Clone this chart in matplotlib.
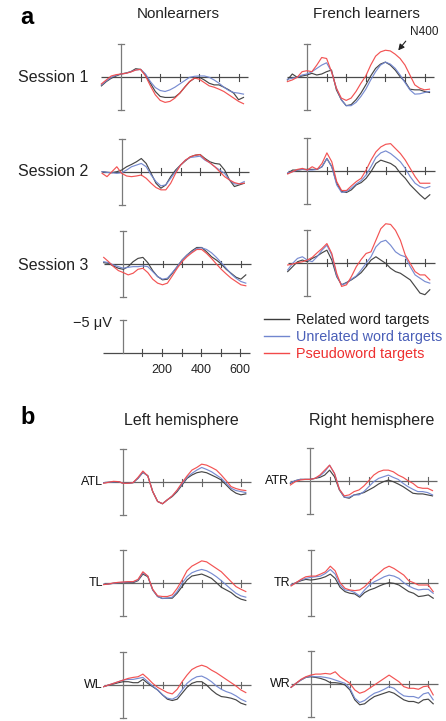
import matplotlib
matplotlib.use("Agg")
import matplotlib.pyplot as plt
from matplotlib.lines import Line2D

plt.rcParams['font.family'] = ['Liberation Sans', 'DejaVu Sans']

W, H = 446, 721

# ---------------- data (μV, negative plotted upward) ----------------
times = [-100, -75, -50, -25, 0, 25, 50, 75, 100, 125, 150, 175, 200, 225, 250,
         275, 300, 325, 350, 375, 400, 425, 450, 475, 500, 525, 550, 575, 600, 625]

series_names = ["Related word targets", "Unrelated word targets", "Pseudoword targets"]
series_colors = ["#3c3c3c", "#7186cf", "#f24a4a"]

# Panel a — Nonlearners
nl_s1_related = [1.3, 0.65, 0.15, -0.2, -0.5, -0.65, -0.85, -1.3, -1.2, -0.35, 0.9, 2.15, 2.9, 3.05, 3.05, 3.0, 2.4, 1.5, 0.65, 0.15, 0.0, 0.4, 0.9, 1.15, 1.15, 1.5, 1.9, 2.4, 3.4, 3.05]
nl_s1_unrelated = [1.15, 0.55, 0.0, -0.3, -0.5, -0.6, -0.85, -1.1, -1.2, -0.5, 0.65, 1.55, 2.0, 2.15, 1.9, 1.5, 1.0, 0.5, 0.0, -0.15, -0.2, -0.2, 0.0, 0.4, 0.9, 1.5, 2.0, 2.3, 2.4, 2.55]
nl_s1_pseudo = [1.0, 0.4, -0.2, -0.4, -0.5, -0.6, -0.8, -1.1, -1.2, -0.2, 1.3, 2.65, 3.5, 3.8, 3.65, 3.15, 2.4, 1.5, 0.65, 0.1, 0.3, 0.8, 1.3, 1.5, 1.8, 2.15, 2.65, 3.15, 3.65, 4.0]

nl_s2_related = [0.0, 0.1, 0.15, 0.0, -0.25, -0.75, -1.1, -1.5, -2.0, -1.25, 0.25, 1.75, 2.5, 2.0, 0.75, -0.25, -1.0, -1.65, -2.25, -2.5, -2.6, -2.0, -1.5, -1.25, -1.15, -0.25, 1.25, 2.25, 2.0, 1.75]
nl_s2_unrelated = [0.0, 0.1, 0.15, 0.25, 0.15, -0.25, -0.75, -1.0, -1.25, -0.75, 0.5, 1.5, 2.15, 2.0, 1.0, 0.0, -1.0, -1.75, -2.15, -2.25, -2.35, -1.75, -1.35, -0.75, -0.25, 0.25, 1.25, 1.85, 1.85, 1.5]
nl_s2_pseudo = [0.25, 0.75, 0.0, -0.75, 0.25, 0.65, 0.75, 0.65, 0.5, 1.0, 1.75, 2.4, 2.75, 2.75, 1.75, 0.25, -1.0, -1.75, -2.25, -2.5, -2.6, -1.85, -1.35, -0.75, 0.0, 0.75, 1.25, 1.65, 1.85, 1.75]

nl_s3_related = [-0.2, -0.1, 0.3, 0.65, 0.8, 0.4, -0.35, -0.85, -1.0, -0.2, 1.0, 1.9, 2.4, 2.3, 1.4, 0.4, -0.6, -1.35, -2.0, -2.5, -2.5, -1.85, -1.1, -0.6, 0.0, 0.8, 1.4, 2.0, 2.3, 1.65]
nl_s3_unrelated = [-0.35, -0.2, 0.15, 0.4, 0.65, 0.5, 0.4, 0.4, 0.3, 0.4, 1.15, 1.9, 2.3, 2.15, 1.3, 0.4, -0.6, -1.35, -1.85, -2.35, -2.45, -2.2, -1.7, -1.0, -0.2, 0.65, 1.5, 2.15, 2.65, 2.9]
nl_s3_pseudo = [-1.0, -0.35, 0.4, 1.0, 1.3, 1.65, 1.4, 0.8, 0.65, 1.3, 2.3, 2.9, 3.15, 2.9, 1.8, 0.65, -0.35, -1.1, -1.7, -2.2, -2.2, -1.6, -0.85, 0.0, 0.8, 1.5, 2.15, 2.65, 3.15, 3.3]

# Panel a — French learners
fl_s1_related = [0.4, -0.5, 0.0, -0.2, -0.35, -0.6, -0.35, -0.5, -0.85, -1.1, 1.9, 3.4, 4.3, 4.15, 3.4, 2.4, 1.15, -0.2, -1.35, -2.0, -2.3, -1.85, -1.1, -0.1, 0.65, 1.8, 1.9, 1.9, 2.15, 2.3]
fl_s1_unrelated = [0.3, 0.15, 0.0, -0.35, -0.5, -0.85, -1.35, -1.85, -2.2, -0.85, 1.65, 3.4, 4.3, 4.3, 3.8, 2.9, 1.8, 0.4, -0.85, -1.85, -2.3, -2.0, -1.35, -0.35, 0.8, 1.9, 2.55, 2.5, 2.3, 2.15]
fl_s1_pseudo = [0.65, 0.4, 0.0, -0.85, -1.0, -0.85, -1.85, -3.0, -2.85, -0.85, 1.65, 3.15, 3.5, 3.15, 2.15, 0.9, -0.2, -1.85, -3.2, -3.85, -4.1, -4.0, -3.5, -2.85, -1.85, -0.35, 1.15, 1.65, 1.9, 1.8]

fl_s2_related = [0.4, -0.1, -0.1, -0.2, -0.2, -0.2, -0.2, -0.6, -1.85, -0.6, 1.9, 3.15, 3.3, 2.9, 2.15, 1.8, 1.15, 0.15, -1.1, -1.6, -1.35, -1.1, -0.6, 0.4, 1.15, 2.15, 2.9, 3.65, 4.3, 3.65]
fl_s2_unrelated = [0.3, 0.15, -0.1, -0.2, -0.1, -0.1, -0.2, -0.6, -1.85, -0.6, 2.15, 3.3, 3.15, 2.65, 2.0, 1.5, 0.65, -0.6, -2.0, -2.7, -3.0, -2.6, -2.0, -1.35, -0.35, 0.9, 1.9, 2.4, 2.65, 2.4]
fl_s2_pseudo = [0.5, 0.15, -0.2, -0.35, -0.1, -0.6, -0.2, -1.1, -2.7, -1.35, 1.65, 3.0, 3.0, 2.3, 1.65, 1.15, -0.1, -1.6, -2.85, -3.6, -4.0, -4.1, -3.35, -2.6, -1.6, -0.35, 0.9, 1.9, 1.9, 1.9]

fl_s3_related = [1.35, 0.6, -0.15, -0.4, -0.15, -0.65, -1.0, -1.5, -1.9, -0.4, 2.1, 3.35, 3.0, 2.6, 2.1, 1.5, 0.6, -0.4, -0.9, -0.4, 0.1, 0.85, 1.35, 1.6, 2.1, 2.6, 3.6, 4.6, 4.85, 4.1]
fl_s3_unrelated = [1.1, 0.1, -0.65, -0.9, -0.4, -0.15, -0.9, -1.9, -2.65, -1.15, 2.0, 3.35, 3.1, 2.5, 2.0, 1.1, 0.1, -0.9, -2.4, -3.15, -3.4, -2.65, -1.65, -1.15, -0.9, 0.6, 1.85, 2.35, 2.85, 3.1]
fl_s3_pseudo = [0.35, 0.2, 0.0, -0.15, -0.4, -0.8, -1.5, -2.15, -2.9, -1.4, 1.6, 3.6, 3.35, 2.1, 0.6, -0.5, -1.4, -1.65, -3.4, -5.15, -5.9, -5.8, -4.9, -3.4, -1.15, 0.1, 1.35, 1.85, 1.85, 2.6]

# Panel b — left hemisphere
atl_related = [0.05, 0.0, -0.05, -0.1, 0.15, 0.15, 0.05, -0.6, -1.5, -1.0, 1.4, 2.9, 3.25, 2.65, 2.15, 1.4, 0.4, -0.6, -1.1, -1.45, -1.6, -1.45, -1.1, -0.75, -0.35, 0.4, 1.15, 1.65, 1.9, 1.75]
atl_unrelated = [0.05, 0.0, -0.05, -0.1, 0.15, 0.15, 0.05, -0.6, -1.55, -0.95, 1.4, 2.9, 3.25, 2.65, 2.05, 1.25, 0.25, -0.75, -1.35, -1.85, -2.25, -1.95, -1.6, -1.1, -0.6, 0.15, 0.9, 1.25, 1.4, 1.55]
atl_pseudo = [0.15, 0.0, -0.15, -0.1, 0.15, 0.15, 0.05, -0.75, -1.7, -0.95, 1.4, 2.9, 3.25, 2.65, 2.05, 1.15, 0.05, -0.95, -1.85, -2.25, -2.75, -2.6, -2.25, -1.85, -1.1, -0.25, 0.65, 0.95, 1.15, 1.25]

tl_related = [0.15, 0.1, 0.0, -0.1, -0.1, -0.15, -0.1, -0.4, -1.4, -1.0, 1.0, 2.0, 2.3, 2.25, 2.25, 1.5, 0.5, -0.5, -1.1, -1.25, -1.4, -1.1, -0.75, -0.1, 0.6, 1.0, 1.4, 2.0, 2.4, 2.6]
tl_unrelated = [0.15, 0.1, 0.0, -0.1, -0.15, -0.2, -0.2, -0.5, -1.6, -1.1, 1.0, 2.0, 2.3, 2.25, 2.1, 1.25, 0.0, -1.0, -1.6, -1.9, -2.1, -1.9, -1.5, -1.0, -0.4, 0.25, 0.9, 1.5, 1.9, 2.1]
tl_pseudo = [0.2, 0.1, -0.05, -0.15, -0.2, -0.25, -0.25, -0.6, -1.75, -1.1, 0.9, 1.9, 2.0, 2.0, 1.75, 0.75, -0.5, -1.9, -2.6, -3.0, -3.4, -3.25, -2.75, -2.25, -1.75, -1.0, -0.25, 0.5, 0.9, 1.25]

wl_related = [0.25, 0.0, -0.15, -0.35, -0.5, -0.5, -0.35, -0.35, -0.85, -0.25, 0.25, 0.75, 1.5, 2.15, 2.35, 2.15, 1.25, 0.35, -0.25, -0.5, -0.5, 0.0, 0.75, 1.35, 1.75, 1.85, 2.0, 2.25, 2.75, 3.0]
wl_unrelated = [0.25, 0.0, -0.25, -0.5, -0.75, -0.85, -0.85, -1.0, -1.15, -0.5, 0.15, 0.75, 1.5, 2.0, 2.15, 1.75, 0.75, -0.25, -0.85, -1.25, -1.35, -1.0, -0.5, 0.15, 0.65, 1.0, 1.25, 1.65, 2.15, 2.5]
wl_pseudo = [0.25, 0.0, -0.25, -0.5, -0.75, -1.0, -1.15, -1.25, -1.65, -1.0, -0.25, 0.35, 0.75, 1.15, 1.35, 0.65, -0.5, -1.5, -2.35, -2.75, -3.0, -2.75, -2.25, -1.85, -1.35, -0.85, -0.35, 0.15, 0.75, 1.15]

# Panel b — right hemisphere
atr_related = [0.4, 0.0, -0.2, -0.2, -0.2, -0.35, -0.5, -0.85, -1.6, -0.6, 1.4, 2.5, 2.65, 2.15, 2.0, 1.8, 1.4, 1.0, 0.5, 0.15, -0.1, 0.15, 0.5, 0.9, 1.4, 1.9, 2.0, 2.0, 2.15, 2.3]
atr_unrelated = [0.3, 0.0, -0.2, -0.2, -0.2, -0.35, -0.7, -1.35, -2.35, -1.1, 1.3, 2.5, 2.5, 2.15, 2.15, 1.65, 0.9, 0.15, -0.35, -0.6, -0.85, -0.5, -0.2, 0.4, 0.9, 1.3, 1.65, 1.65, 1.8, 2.15]
atr_pseudo = [0.65, 0.15, -0.1, -0.2, -0.2, -0.35, -0.85, -1.6, -2.35, -1.1, 1.3, 2.3, 2.15, 1.65, 1.4, 0.8, 0.0, -0.85, -1.35, -1.6, -1.6, -1.35, -0.85, -0.5, 0.0, 0.4, 1.0, 1.15, 1.15, 1.5]

tr_related = [0.35, 0.0, -0.3, -0.5, -0.4, -0.5, -0.65, -0.9, -1.3, -0.65, 0.7, 1.35, 1.6, 1.7, 2.2, 1.5, 1.1, 0.85, 0.5, 0.2, 0.0, 0.1, 0.35, 0.85, 1.35, 1.6, 2.1, 2.0, 1.85, 2.35]
tr_unrelated = [0.35, 0.0, -0.4, -0.65, -0.8, -0.9, -1.0, -1.4, -2.0, -1.3, 0.35, 1.1, 1.2, 1.5, 2.0, 1.1, 0.35, -0.15, -0.5, -0.9, -1.15, -1.0, -0.65, 0.0, 0.5, 0.85, 1.1, 1.0, 1.0, 1.6]
tr_pseudo = [0.5, 0.0, -0.5, -0.9, -1.0, -1.0, -1.3, -1.65, -2.5, -1.8, 0.0, 0.85, 1.1, 1.2, 1.1, 0.6, -0.15, -0.9, -1.5, -2.15, -2.5, -2.15, -1.65, -1.15, -0.3, 0.0, 0.35, 0.35, 0.35, 1.35]

wr_related = [0.5, -0.1, -0.6, -1.0, -1.1, -1.0, -0.85, -0.6, -0.2, -0.2, -0.1, 0.15, 0.9, 2.4, 3.15, 3.0, 2.4, 1.9, 1.65, 1.4, 1.15, 1.4, 1.9, 2.4, 2.65, 2.65, 2.9, 2.4, 2.3, 3.0]
wr_unrelated = [0.5, -0.1, -0.6, -1.0, -1.2, -1.1, -1.1, -1.0, -0.85, -0.6, -0.35, -0.1, 0.65, 2.15, 2.8, 2.5, 1.9, 1.4, 1.15, 0.8, 0.4, 0.65, 1.3, 1.8, 1.9, 1.9, 2.15, 1.5, 1.3, 2.4]
wr_pseudo = [0.5, -0.1, -0.7, -1.1, -1.35, -1.5, -1.5, -1.6, -1.5, -1.85, -1.1, -0.6, -0.1, 0.9, 1.4, 1.15, 0.65, 0.15, -0.35, -0.85, -1.35, -0.85, -0.35, 0.4, 0.65, 0.65, 0.8, 0.4, 0.3, 1.65]

axis_ticks = [100, 200, 300, 400, 500, 600]
scale_tick_labels = ["200", "400", "600"]
scale_tick_label_pos = [200, 400, 600]

row_labels_a = ["Session 1", "Session 2", "Session 3"]
col_titles_a = ["Nonlearners", "French learners"]
row_labels_b_left = ["ATL", "TL", "WL"]
row_labels_b_right = ["ATR", "TR", "WR"]
col_titles_b = ["Left hemisphere", "Right hemisphere"]

# ---------------- layout helpers ----------------
PX_MS = 0.196
PX_UV = 6.6
XL = (-130, 670)
YL = 7.0

fig = plt.figure(figsize=(W / 100, H / 100), dpi=100)

AX_V = "#7a7a7a"
AX_H = "#4a4a4a"


def make_ax(x0, y0):
    left = x0 - (0 - XL[0]) * PX_MS
    width = (XL[1] - XL[0]) * PX_MS
    top = y0 - YL * PX_UV
    height = 2 * YL * PX_UV
    ax = fig.add_axes([left / W, 1 - (top + height) / H, width / W, height / H])
    ax.set_xlim(*XL)
    ax.set_ylim(YL, -YL)
    ax.axis('off')
    return ax


def frame(ax, full=True, hcol=AX_H):
    ax.plot([-100, 650], [0, 0], color=hcol, lw=0.9, zorder=1, solid_capstyle='butt')
    lo = 5 if full else 0
    ax.plot([0, 0], [-5, lo], color=AX_V, lw=0.9, zorder=1)
    caps = [-5, 5] if full else [-5]
    for c in caps:
        ax.plot([-16, 16], [c, c], color=AX_V, lw=0.9, zorder=1)
    for t in axis_ticks:
        ax.plot([t, t], [-0.5, 0.5], color=hcol, lw=0.8, zorder=1)


def curves(ax, data):
    for vals, col in zip(data, series_colors):
        ax.plot(times, vals, color=col, lw=0.85, alpha=0.95, zorder=2)


def px_text(x, y, s, **kw):
    fig.text(x / W, 1 - y / H, s, **kw)


# ---------------- panel a ----------------
a_panels = [
    ((121.0, 77.3), [nl_s1_related, nl_s1_unrelated, nl_s1_pseudo]),
    ((307.0, 77.3), [fl_s1_related, fl_s1_unrelated, fl_s1_pseudo]),
    ((121.7, 171.7), [nl_s2_related, nl_s2_unrelated, nl_s2_pseudo]),
    ((307.3, 170.7), [fl_s2_related, fl_s2_unrelated, fl_s2_pseudo]),
    ((123.3, 264.0), [nl_s3_related, nl_s3_unrelated, nl_s3_pseudo]),
    ((307.3, 262.7), [fl_s3_related, fl_s3_unrelated, fl_s3_pseudo]),
]
for (x0, y0), data in a_panels:
    ax = make_ax(x0, y0)
    frame(ax)
    curves(ax, data)

# N400 annotation on French learners session 1
px_text(424, 32, "N400", fontsize=8.5, ha='center', va='center', color='#222222')
fig.add_artist(matplotlib.patches.FancyArrowPatch(
    (407.5 / W, 1 - 39 / H), (396.5 / W, 1 - 52.5 / H), transform=fig.transFigure,
    arrowstyle='-|>,head_length=3.5,head_width=1.8', color='#222222', lw=0.8))

# scale panel
ax_s = make_ax(122.7, 352.7)
frame(ax_s, full=False)
for lab, pos in zip(scale_tick_labels, scale_tick_label_pos):
    ax_s.text(pos, 2.65, lab, ha='center', va='center', fontsize=9, color='#222222')
px_text(112, 323, "\u22125 \u03bcV", ha='right', va='center', fontsize=10.5, color='#222222')

# legend
handles = [Line2D([0], [0], color=c, lw=1.0) for c in series_colors]
leg = fig.legend(handles, series_names, loc='upper left',
                 bbox_to_anchor=(264 / W, 1 - 313 / H), frameon=False,
                 fontsize=10.4, handlelength=1.75, handletextpad=0.5,
                 labelspacing=0.22, borderpad=0, borderaxespad=0)
for txt, c in zip(leg.get_texts(), ["#222222", "#4a5fb8", "#ee3030"]):
    txt.set_color(c)

px_text(20, 18, "a", fontsize=17, fontweight='bold', ha='left', va='center')
px_text(178, 14, col_titles_a[0], fontsize=11, ha='center', va='center', color='#222222')
px_text(366, 14, col_titles_a[1], fontsize=11, ha='center', va='center', color='#222222')
for lab, y in zip(row_labels_a, [77, 172, 265]):
    px_text(88, y, lab, fontsize=11.5, ha='right', va='center', color='#222222')

# ---------------- panel b ----------------
b_panels = [
    ((123.3, 482.3), [atl_related, atl_unrelated, atl_pseudo], row_labels_b_left[0]),
    ((310.0, 480.7), [atr_related, atr_unrelated, atr_pseudo], row_labels_b_right[0]),
    ((123.3, 583.3), [tl_related, tl_unrelated, tl_pseudo], row_labels_b_left[1]),
    ((310.7, 582.7), [tr_related, tr_unrelated, tr_pseudo], row_labels_b_right[1]),
    ((123.3, 685.0), [wl_related, wl_unrelated, wl_pseudo], row_labels_b_left[2]),
    ((310.7, 684.0), [wr_related, wr_unrelated, wr_pseudo], row_labels_b_right[2]),
]
for (x0, y0), data, lab in b_panels:
    ax = make_ax(x0, y0)
    frame(ax, hcol="#666666")
    curves(ax, data)
    px_text(x0 - 20.5, y0, lab, fontsize=9, ha='right', va='center', color='#111111')

px_text(20, 418, "b", fontsize=17, fontweight='bold', ha='left', va='center')
px_text(181, 421, col_titles_b[0], fontsize=11.5, ha='center', va='center', color='#222222')
px_text(372, 421, col_titles_b[1], fontsize=11.5, ha='center', va='center', color='#222222')

fig.savefig("out.png", dpi=100)
